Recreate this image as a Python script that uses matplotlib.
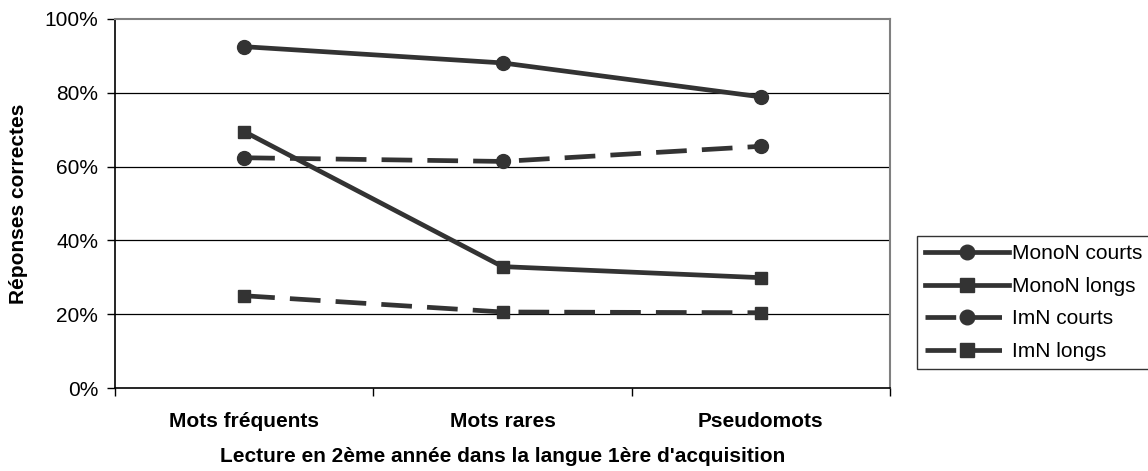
import matplotlib
matplotlib.use("Agg")
from matplotlib import pyplot as plt

# données
categories = ["Mots fréquents", "Mots rares", "Pseudomots"]
mono_courts = [92.5, 88.1, 78.9]
mono_longs = [69.5, 32.9, 29.9]
imn_courts = [62.4, 61.4, 65.5]
imn_longs = [25.0, 20.6, 20.4]
series_names = ["MonoN courts", "MonoN longs", "ImN courts", "ImN longs"]
y_ticks = [0, 20, 40, 60, 80, 100]

plt.rcParams["font.family"] = ["Liberation Sans", "DejaVu Sans"]
plt.rcParams["font.size"] = 15

W, H = 1148, 471
fig = plt.figure(figsize=(W / 100, H / 100), dpi=100)
ax = fig.add_axes([115 / W, (H - 388) / H, 775 / W, 369 / H])

x = list(range(len(categories)))
col = "#333333"
lw = 3.4
dash = (6.5, 3.2)

ax.plot(x, mono_courts, color=col, lw=lw, marker="o", ms=10, label=series_names[0])
ax.plot(x, mono_longs, color=col, lw=lw, marker="s", ms=9, label=series_names[1])
ax.plot(x, imn_courts, color=col, lw=lw, marker="o", ms=10, dashes=dash, label=series_names[2])
ax.plot(x, imn_longs, color=col, lw=lw, marker="s", ms=9, dashes=dash, label=series_names[3])

ax.set_xlim(-0.5, len(categories) - 0.5)
ax.set_ylim(0, 100)

# grille horizontale
for v in y_ticks[1:-1]:
    ax.axhline(v, color="black", lw=0.9, zorder=0)

ax.set_yticks(y_ticks)
ax.set_yticklabels([f"{v}%" for v in y_ticks])
ax.tick_params(axis="y", direction="out", length=6, width=1, pad=6)

ax.set_xticks(x)
ax.set_xticklabels(categories, fontweight="bold")
ax.set_xticks([i - 0.5 for i in range(len(categories) + 1)], minor=True)
ax.tick_params(axis="x", which="major", length=0, pad=17)
ax.tick_params(axis="x", which="minor", direction="out", length=6, width=1)

for s in ["left", "bottom"]:
    ax.spines[s].set_color("black")
    ax.spines[s].set_linewidth(1.2)
for s in ["top", "right"]:
    ax.spines[s].set_color("#808080")
    ax.spines[s].set_linewidth(1.5)

ax.set_ylabel("Réponses correctes", fontweight="bold", labelpad=12)
ax.set_xlabel("Lecture en 2ème année dans la langue 1ère d'acquisition",
              fontweight="bold", labelpad=12)

leg = fig.legend(loc="upper left", bbox_to_anchor=(917 / W, 1 - 236 / H),
                 frameon=True, fancybox=False, edgecolor="black",
                 handlelength=4, handletextpad=0.15, borderaxespad=0,
                 labelspacing=0.65, borderpad=0.4, markerscale=1.05)
leg.get_frame().set_linewidth(1.0)

fig.savefig("out.png", dpi=100)
plt.close(fig)
